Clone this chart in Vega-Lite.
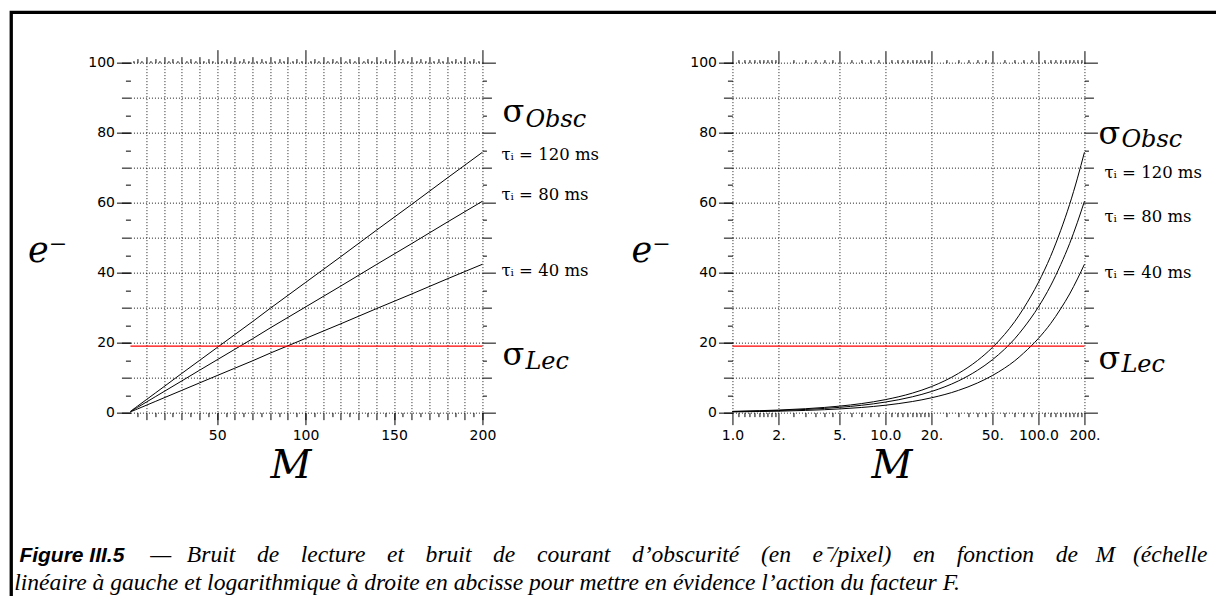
{
  "$schema": "https://vega.github.io/schema/vega-lite/v6.json",
  "background": "white",
  "padding": {"left": 9.45, "top": 10.65, "right": 0, "bottom": 0},
  "spacing": 250,
  "bounds": "flush",
  "config": {
    "view": {"stroke": null},
    "legend": {"strokeWidth": 3.3},
    "axis": {
      "domain": false,
      "labelFont": "DejaVu Sans",
      "labelFontSize": 14,
      "labelColor": "black",
      "labelFlush": false,
      "labelOverlap": false,
      "tickColor": "black",
      "tickWidth": 1,
      "gridColor": "black",
      "gridDash": [1, 2],
      "gridWidth": 1,
      "gridOpacity": 0.9,
      "titleColor": "black"
    }
  },
  "datasets": {
    "curves": [
      {"M": 1, "e": 0.37, "tau": "120"}, {"M": 1.5, "e": 0.56, "tau": "120"}, {"M": 2, "e": 0.74, "tau": "120"}, {"M": 3, "e": 1.12, "tau": "120"}, {"M": 4, "e": 1.49, "tau": "120"}, {"M": 5, "e": 1.86, "tau": "120"}, {"M": 7, "e": 2.6, "tau": "120"}, {"M": 10, "e": 3.72, "tau": "120"}, {"M": 15, "e": 5.58, "tau": "120"}, {"M": 20, "e": 7.44, "tau": "120"}, {"M": 30, "e": 11.2, "tau": "120"}, {"M": 40, "e": 14.9, "tau": "120"}, {"M": 50, "e": 18.6, "tau": "120"}, {"M": 60, "e": 22.3, "tau": "120"}, {"M": 70, "e": 26.0, "tau": "120"}, {"M": 80, "e": 29.8, "tau": "120"}, {"M": 100, "e": 37.2, "tau": "120"}, {"M": 120, "e": 44.6, "tau": "120"}, {"M": 140, "e": 52.1, "tau": "120"}, {"M": 160, "e": 59.5, "tau": "120"}, {"M": 180, "e": 67.0, "tau": "120"}, {"M": 200, "e": 74.4, "tau": "120"},
      {"M": 1, "e": 0.30, "tau": "80"}, {"M": 1.5, "e": 0.45, "tau": "80"}, {"M": 2, "e": 0.60, "tau": "80"}, {"M": 3, "e": 0.91, "tau": "80"}, {"M": 4, "e": 1.21, "tau": "80"}, {"M": 5, "e": 1.51, "tau": "80"}, {"M": 7, "e": 2.11, "tau": "80"}, {"M": 10, "e": 3.02, "tau": "80"}, {"M": 15, "e": 4.53, "tau": "80"}, {"M": 20, "e": 6.04, "tau": "80"}, {"M": 30, "e": 9.06, "tau": "80"}, {"M": 40, "e": 12.1, "tau": "80"}, {"M": 50, "e": 15.1, "tau": "80"}, {"M": 60, "e": 18.1, "tau": "80"}, {"M": 70, "e": 21.1, "tau": "80"}, {"M": 80, "e": 24.2, "tau": "80"}, {"M": 100, "e": 30.2, "tau": "80"}, {"M": 120, "e": 36.2, "tau": "80"}, {"M": 140, "e": 42.3, "tau": "80"}, {"M": 160, "e": 48.3, "tau": "80"}, {"M": 180, "e": 54.4, "tau": "80"}, {"M": 200, "e": 60.4, "tau": "80"},
      {"M": 1, "e": 0.21, "tau": "40"}, {"M": 1.5, "e": 0.32, "tau": "40"}, {"M": 2, "e": 0.42, "tau": "40"}, {"M": 3, "e": 0.64, "tau": "40"}, {"M": 4, "e": 0.85, "tau": "40"}, {"M": 5, "e": 1.06, "tau": "40"}, {"M": 7, "e": 1.48, "tau": "40"}, {"M": 10, "e": 2.12, "tau": "40"}, {"M": 15, "e": 3.18, "tau": "40"}, {"M": 20, "e": 4.24, "tau": "40"}, {"M": 30, "e": 6.36, "tau": "40"}, {"M": 40, "e": 8.48, "tau": "40"}, {"M": 50, "e": 10.6, "tau": "40"}, {"M": 60, "e": 12.7, "tau": "40"}, {"M": 70, "e": 14.8, "tau": "40"}, {"M": 80, "e": 17.0, "tau": "40"}, {"M": 100, "e": 21.2, "tau": "40"}, {"M": 120, "e": 25.4, "tau": "40"}, {"M": 140, "e": 29.7, "tau": "40"}, {"M": 160, "e": 33.9, "tau": "40"}, {"M": 180, "e": 38.2, "tau": "40"}, {"M": 200, "e": 42.4, "tau": "40"}
    ],
    "readout": [{"M": 1, "M2": 200, "e": 19}],
    "tauL": [
      {"M": 200, "e": 73.5, "label": "τᵢ = 120 ms"},
      {"M": 200, "e": 62.3, "label": "τᵢ = 80 ms"},
      {"M": 200, "e": 40.6, "label": "τᵢ = 40 ms"}
    ],
    "sigL": [
      {"M": 200, "e": 86.0, "esub": 83.7, "sub": "Obsc"},
      {"M": 200, "e": 16.6, "esub": 14.6, "sub": "Lec"}
    ],
    "tauR": [
      {"M": 200, "e": 68.4, "label": "τᵢ = 120 ms"},
      {"M": 200, "e": 55.8, "label": "τᵢ = 80 ms"},
      {"M": 200, "e": 39.8, "label": "τᵢ = 40 ms"}
    ],
    "sigR": [
      {"M": 200, "e": 79.6, "esub": 77.8, "sub": "Obsc"},
      {"M": 200, "e": 15.3, "esub": 13.6, "sub": "Lec"}
    ],
    "anchor": [{"M": 100, "e": 50}]
  },
  "hconcat": [
    {
      "width": 352,
      "height": 350,
      "title": {
        "text": "\u200b\u2005Figure III.5",
        "subtitle": "linéaire à gauche et logarithmique à droite en abcisse pour mettre en évidence l’action du facteur F.",
        "orient": "bottom",
        "anchor": "start",
        "frame": "group",
        "dx": -116.3,
        "offset": 59,
        "font": "Liberation Sans",
        "fontSize": 21,
        "fontStyle": "italic",
        "fontWeight": "bold",
        "color": "black",
        "subtitleFont": "Liberation Serif",
        "subtitleFontSize": 23.6,
        "subtitleFontStyle": "italic",
        "subtitleColor": "black",
        "subtitlePadding": 5
      },
      "layer": [
        {
          "data": {"name": "curves"},
          "mark": {"type": "line", "color": "black", "strokeWidth": 1},
          "encoding": {
            "x": {"field": "M", "type": "quantitative", "scale": {"domain": [1, 200], "nice": false, "zero": false},
              "axis": {"orient": "bottom", "values": [50, 100, 150, 200], "tickSize": 12, "labelPadding": 4, "grid": false,
                "title": "M", "titleX": 160, "titleY": 65, "titleAlign": "center", "titleBaseline": "alphabetic",
                "titleFont": "DejaVu Serif", "titleFontStyle": "italic", "titleFontWeight": "normal", "titleFontSize": 40}},
            "y": {"field": "e", "type": "quantitative", "scale": {"domain": [0, 100], "nice": false},
              "axis": {"orient": "left", "values": [0, 20, 40, 60, 80, 100], "tickSize": 14, "labelPadding": 2, "grid": false,
                "title": "e⁻", "titleAngle": 0, "titleX": -103, "titleY": 199, "titleAlign": "left", "titleBaseline": "alphabetic",
                "titleFont": "DejaVu Serif", "titleFontStyle": "italic", "titleFontWeight": "normal", "titleFontSize": 35}},
            "detail": {"field": "tau", "type": "nominal"}
          }
        },
        {
          "data": {"name": "readout"},
          "mark": {"type": "rule", "color": "#ff0000", "strokeWidth": 1.3},
          "encoding": {
            "x": {"field": "M", "type": "quantitative", "scale": {"domain": [1, 200], "nice": false, "zero": false},
              "axis": {"orient": "bottom", "values": [10, 20, 30, 40, 50, 60, 70, 80, 90, 100, 110, 120, 130, 140, 150, 160, 170, 180, 190, 200], "tickSize": 7, "labels": false, "title": null, "grid": true}},
            "x2": {"field": "M2"},
            "y": {"field": "e", "type": "quantitative", "scale": {"domain": [0, 100], "nice": false},
              "axis": {"orient": "left", "values": [0, 10, 20, 30, 40, 50, 60, 70, 80, 90, 100], "tickSize": 9, "labels": false, "title": null, "grid": true}}
          }
        },
        {
          "data": {"name": "tauL"},
          "mark": {"type": "text", "align": "left", "baseline": "middle", "dx": 19, "font": "DejaVu Serif", "fontSize": 16.5, "color": "black"},
          "encoding": {
            "x": {"field": "M", "type": "quantitative", "scale": {"domain": [1, 200], "nice": false, "zero": false},
              "axis": {"orient": "bottom", "values": [5, 15, 25, 35, 45, 55, 65, 75, 85, 95, 105, 115, 125, 135, 145, 155, 165, 175, 185, 195], "tickSize": 4, "labels": false, "title": null, "grid": false}},
            "y": {"field": "e", "type": "quantitative", "scale": {"domain": [0, 100], "nice": false},
              "axis": {"orient": "left", "values": [5, 15, 25, 35, 45, 55, 65, 75, 85, 95], "tickSize": 5, "labels": false, "title": null, "grid": false}},
            "text": {"field": "label"}
          }
        },
        {
          "data": {"name": "sigL"},
          "mark": {"type": "text", "text": "σ", "align": "left", "baseline": "middle", "dx": 20, "font": "DejaVu Serif", "fontSize": 32, "color": "black"},
          "encoding": {
            "x": {"field": "M", "type": "quantitative", "scale": {"domain": [1, 200], "nice": false, "zero": false},
              "axis": {"orient": "top", "values": [50, 100, 150, 200], "tickSize": 13, "labels": false, "title": null, "grid": false}},
            "y": {"field": "e", "type": "quantitative", "scale": {"domain": [0, 100], "nice": false},
              "axis": {"orient": "right", "values": [0, 20, 40, 60, 80, 100], "tickSize": 13, "labels": false, "title": null, "grid": false}}
          }
        },
        {
          "data": {"name": "sigL"},
          "mark": {"type": "text", "align": "left", "baseline": "middle", "dx": 43, "font": "DejaVu Serif", "fontStyle": "italic", "fontSize": 24, "color": "black"},
          "encoding": {
            "x": {"field": "M", "type": "quantitative", "scale": {"domain": [1, 200], "nice": false, "zero": false},
              "axis": {"orient": "top", "values": [10, 20, 30, 40, 60, 70, 80, 90, 110, 120, 130, 140, 160, 170, 180, 190], "tickSize": 6, "labels": false, "title": null, "grid": false}},
            "y": {"field": "esub", "type": "quantitative", "scale": {"domain": [0, 100], "nice": false},
              "axis": {"orient": "right", "values": [10, 30, 50, 70, 90], "tickSize": 9, "labels": false, "title": null, "grid": false}},
            "text": {"field": "sub"}
          }
        },
        {
          "data": {"name": "anchor"},
          "mark": {"type": "point", "opacity": 0},
          "encoding": {
            "x": {"field": "M", "type": "quantitative", "scale": {"domain": [1, 200], "nice": false, "zero": false},
              "axis": {"orient": "top", "values": [5, 15, 25, 35, 45, 55, 65, 75, 85, 95, 105, 115, 125, 135, 145, 155, 165, 175, 185, 195], "tickSize": 4, "labels": false, "title": null, "grid": false}},
            "y": {"field": "e", "type": "quantitative", "scale": {"domain": [0, 100], "nice": false},
              "axis": {"orient": "right", "values": [5, 15, 25, 35, 45, 55, 65, 75, 85, 95], "tickSize": 4, "labels": false, "title": null, "grid": false}},
            "shape": {"datum": "cadre", "legend": {"orient": "none", "legendX": -119.2, "legendY": -50.2, "padding": 700, "strokeColor": "black", "title": null, "labelExpr": "''", "symbolOpacity": 0, "symbolStrokeWidth": 0}}
          }
        },
        {
          "data": {"name": "anchor"},
          "mark": {"type": "point", "opacity": 0},
          "encoding": {
            "x": {"field": "M", "type": "quantitative", "scale": {"domain": [1, 200], "nice": false, "zero": false},
              "axis": {"orient": "top", "values": [2.5, 7.5, 12.5, 17.5, 22.5, 27.5, 32.5, 37.5, 42.5, 47.5, 52.5, 57.5, 62.5, 67.5, 72.5, 77.5, 82.5, 87.5, 92.5, 97.5, 102.5, 107.5, 112.5, 117.5, 122.5, 127.5, 132.5, 137.5, 142.5, 147.5, 152.5, 157.5, 162.5, 167.5, 172.5, 177.5, 182.5, 187.5, 192.5, 197.5], "tickSize": 2, "labels": false, "title": null, "grid": false}},
            "y": {"field": "e", "type": "quantitative", "scale": {"domain": [0, 100], "nice": false}, "axis": null}
          }
        }
      ],
      "resolve": {"axis": {"x": "independent", "y": "independent"}}
    },
    {
      "width": 352,
      "height": 350,
      "title": {
        "text": "—\u2002\u2006Bruit\u2002\u2005\u2006de\u2002\u2005\u2006lecture\u2002\u2005\u2006et\u2002\u2005\u2006bruit\u2002\u2005\u2006de\u2002\u2005\u2006courant\u2002\u2005\u2006d’obscurité\u2002\u2005\u2006(en\u2002\u2005\u2006e⁻/pixel)\u2002\u2005\u2006en\u2002\u2005\u2006fonction\u2002\u2005\u2006de\u2002\u2005M\u2002\u2005(échelle",
        "orient": "bottom",
        "anchor": "start",
        "frame": "group",
        "dx": -582.3,
        "offset": 57,
        "font": "Liberation Serif",
        "fontSize": 23.6,
        "fontStyle": "italic",
        "fontWeight": "normal",
        "color": "black"
      },
      "layer": [
        {
          "data": {"name": "curves"},
          "mark": {"type": "line", "color": "black", "strokeWidth": 1, "interpolate": "monotone"},
          "encoding": {
            "x": {"field": "M", "type": "quantitative", "scale": {"type": "log", "domain": [1, 200], "nice": false},
              "axis": {"orient": "bottom", "values": [1, 2, 5, 10, 20, 50, 100, 200], "tickSize": 12, "labelPadding": 4, "grid": true,
                "labelExpr": "datum.value == 1 ? '1.0' : datum.value == 10 ? '10.0' : datum.value == 100 ? '100.0' : datum.value + '.'",
                "title": "M", "titleX": 159, "titleY": 65, "titleAlign": "center", "titleBaseline": "alphabetic",
                "titleFont": "DejaVu Serif", "titleFontStyle": "italic", "titleFontWeight": "normal", "titleFontSize": 40}},
            "y": {"field": "e", "type": "quantitative", "scale": {"domain": [0, 100], "nice": false},
              "axis": {"orient": "left", "values": [0, 20, 40, 60, 80, 100], "tickSize": 14, "labelPadding": 2, "grid": false,
                "title": "e⁻", "titleAngle": 0, "titleX": -101.5, "titleY": 199, "titleAlign": "left", "titleBaseline": "alphabetic",
                "titleFont": "DejaVu Serif", "titleFontStyle": "italic", "titleFontWeight": "normal", "titleFontSize": 35}},
            "detail": {"field": "tau", "type": "nominal"}
          }
        },
        {
          "data": {"name": "readout"},
          "mark": {"type": "rule", "color": "#ff0000", "strokeWidth": 1.3},
          "encoding": {
            "x": {"field": "M", "type": "quantitative", "scale": {"type": "log", "domain": [1, 200], "nice": false},
              "axis": {"orient": "bottom", "values": [1.1, 1.2, 1.3, 1.4, 1.5, 1.6, 1.7, 1.8, 1.9, 2.5, 3, 3.5, 4, 4.5, 6, 7, 8, 9, 11, 12, 13, 14, 15, 16, 17, 18, 19, 25, 30, 35, 40, 45, 60, 70, 80, 90, 110, 120, 130, 140, 150, 160, 170, 180, 190], "tickSize": 4, "labels": false, "title": null, "grid": false}},
            "x2": {"field": "M2"},
            "y": {"field": "e", "type": "quantitative", "scale": {"domain": [0, 100], "nice": false},
              "axis": {"orient": "left", "values": [0, 10, 20, 30, 40, 50, 60, 70, 80, 90, 100], "tickSize": 9, "labels": false, "title": null, "grid": true}}
          }
        },
        {
          "data": {"name": "tauR"},
          "mark": {"type": "text", "align": "left", "baseline": "middle", "dx": 20, "font": "DejaVu Serif", "fontSize": 16.5, "color": "black"},
          "encoding": {
            "x": {"field": "M", "type": "quantitative", "scale": {"type": "log", "domain": [1, 200], "nice": false},
              "axis": {"orient": "top", "values": [1, 2, 5, 10, 20, 50, 100, 200], "tickSize": 12, "labels": false, "title": null, "grid": false}},
            "y": {"field": "e", "type": "quantitative", "scale": {"domain": [0, 100], "nice": false},
              "axis": {"orient": "left", "values": [5, 15, 25, 35, 45, 55, 65, 75, 85, 95], "tickSize": 5, "labels": false, "title": null, "grid": false}},
            "text": {"field": "label"}
          }
        },
        {
          "data": {"name": "sigR"},
          "mark": {"type": "text", "text": "σ", "align": "left", "baseline": "middle", "dx": 14, "font": "DejaVu Serif", "fontSize": 32, "color": "black"},
          "encoding": {
            "x": {"field": "M", "type": "quantitative", "scale": {"type": "log", "domain": [1, 200], "nice": false},
              "axis": {"orient": "top", "values": [1.1, 1.2, 1.3, 1.4, 1.5, 1.6, 1.7, 1.8, 1.9, 2.5, 3, 3.5, 4, 4.5, 6, 7, 8, 9, 11, 12, 13, 14, 15, 16, 17, 18, 19, 25, 30, 35, 40, 45, 60, 70, 80, 90, 110, 120, 130, 140, 150, 160, 170, 180, 190], "tickSize": 3, "labels": false, "title": null, "grid": false}},
            "y": {"field": "e", "type": "quantitative", "scale": {"domain": [0, 100], "nice": false},
              "axis": {"orient": "right", "values": [0, 20, 40, 60, 80, 100], "tickSize": 13, "labels": false, "title": null, "grid": false}}
          }
        },
        {
          "data": {"name": "sigR"},
          "mark": {"type": "text", "align": "left", "baseline": "middle", "dx": 37, "font": "DejaVu Serif", "fontStyle": "italic", "fontSize": 24, "color": "black"},
          "encoding": {
            "x": {"field": "M", "type": "quantitative", "scale": {"type": "log", "domain": [1, 200], "nice": false}, "axis": null},
            "y": {"field": "esub", "type": "quantitative", "scale": {"domain": [0, 100], "nice": false},
              "axis": {"orient": "right", "values": [10, 30, 50, 70, 90], "tickSize": 9, "labels": false, "title": null, "grid": false}},
            "text": {"field": "sub"}
          }
        },
        {
          "data": {"name": "anchor"},
          "mark": {"type": "point", "opacity": 0},
          "encoding": {
            "x": {"field": "M", "type": "quantitative", "scale": {"type": "log", "domain": [1, 200], "nice": false}, "axis": null},
            "y": {"field": "e", "type": "quantitative", "scale": {"domain": [0, 100], "nice": false},
              "axis": {"orient": "right", "values": [5, 15, 25, 35, 45, 55, 65, 75, 85, 95], "tickSize": 4, "labels": false, "title": null, "grid": false}}
          }
        }
      ],
      "resolve": {"axis": {"x": "independent", "y": "independent"}}
    }
  ]
}
